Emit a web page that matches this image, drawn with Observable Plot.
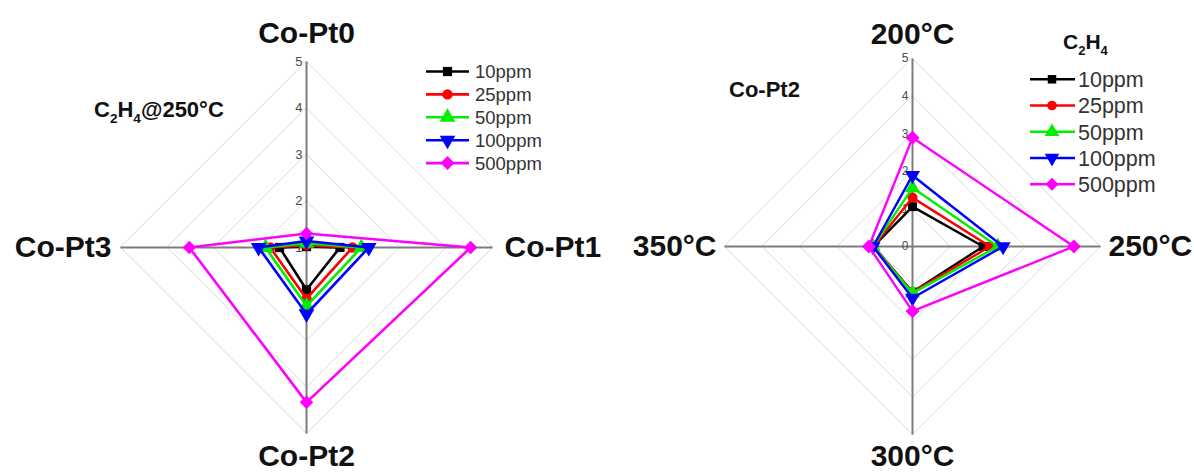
<!DOCTYPE html>
<html>
<head>
<meta charset="utf-8">
<script src="https://cdn.jsdelivr.net/npm/d3@7"></script>
<script src="https://cdn.jsdelivr.net/npm/@observablehq/plot@0.6"></script>
<style>
  body { margin: 0; background: #fff; }
  #wrap { position: relative; width: 1194px; height: 472px; overflow: hidden; font-family: "Liberation Sans", Arial, sans-serif; }
  .panel { position: absolute; top: 0; }
  #overlay { position: absolute; left: 0; top: 0; pointer-events: none; }
</style>
</head>
<body>
<div id="wrap">
  <div id="left" class="panel" style="left:0"></div>
  <div id="right" class="panel" style="left:597px"></div>
  <svg id="overlay" width="1194" height="472"></svg>
</div>
<script>
// C2H4 concentrations shared by both radar panels
const series = ["10ppm", "25ppm", "50ppm", "100ppm", "500ppm"];
const seriesColors = ["#000000", "#ff0000", "#00ee00", "#0000ff", "#ff00ff"];
const seriesSymbols = ["square", "circle", "triangle", "triangle", "square"];
const seriesRotate = [0, 0, 0, 180, 45];

// Panel 1: response of each sample to C2H4 at 250 °C
const sampleAxes = ["Co-Pt0", "Co-Pt1", "Co-Pt2", "Co-Pt3"];
const sample10 = [1.02, 1.72, 1.91, 1.58];
const sample25 = [1.05, 1.99, 2.10, 1.78];
const sample50 = [1.09, 2.18, 2.26, 1.88];
const sample100 = [1.14, 2.34, 2.43, 2.03];
const sample500 = [1.30, 4.53, 4.33, 3.52];
const sampleTicks = [1, 2, 3, 4, 5];

// Panel 2: response of Co-Pt2 at each operating temperature
const tempAxes = ["200°C", "250°C", "300°C", "350°C"];
const temp10 = [1.06, 1.88, 1.21, 1.04];
const temp25 = [1.30, 2.06, 1.22, 1.04];
const temp50 = [1.56, 2.27, 1.24, 1.05];
const temp100 = [1.89, 2.41, 1.37, 1.05];
const temp500 = [2.89, 4.29, 1.72, 1.16];
const tempTicks = [0, 1, 2, 3, 4, 5];

function radar({axes, values, ticks, rMin, rMax, gridStep, cx, cy, unit, width, height,
                lineWidth, dotR, diamondR, labelSize, tickSize, labelGap}) {
  const n = axes.length;
  // clockwise from the top, value rMin sits at the centre
  const polar = (v, i) => {
    const a = 2 * Math.PI * i / n;
    const r = v - rMin;
    return {x: r * Math.sin(a), y: r * Math.cos(a)};
  };
  const levels = d3.range(rMin + gridStep, rMax + 1e-9, gridStep);
  const grid = levels.flatMap(L => axes.map((a, i) => ({level: L, ...polar(L, i)})));
  const spokes = axes.map((a, i) => ({axis: a, i, ...polar(rMax, i)}));

  const seriesMarks = values.flatMap((vals, s) => {
    const pts = vals.map((v, i) => ({series: series[s], axis: axes[i], value: v, ...polar(v, i)}));
    return [
      Plot.line(pts, {x: "x", y: "y", curve: "linear-closed", stroke: seriesColors[s], strokeWidth: lineWidth}),
      Plot.dot(pts, {x: "x", y: "y", symbol: seriesSymbols[s], rotate: seriesRotate[s],
                     r: s === 4 ? diamondR : (s >= 2 ? dotR + 0.6 : dotR),
                     fill: seriesColors[s], stroke: "none"})
    ];
  });

  const labelStyle = {text: "axis", fontSize: labelSize, fontWeight: "bold", fill: "#111"};
  return Plot.plot({
    width, height,
    margin: 0,
    x: {domain: [-cx / unit, (width - cx) / unit], axis: null},
    y: {domain: [-(height - cy) / unit, cy / unit], axis: null},
    style: {fontFamily: "'Liberation Sans', Arial, sans-serif", background: "transparent", overflow: "visible"},
    marks: [
      Plot.line(grid, {x: "x", y: "y", z: "level", curve: "linear-closed", stroke: "#dadada", strokeWidth: 1}),
      Plot.link(spokes, {x1: 0, y1: 0, x2: "x", y2: "y", stroke: "#7c7c7c", strokeWidth: 2}),
      Plot.text(ticks, {x: 0, y: t => t - rMin, text: d => String(d), textAnchor: "end", dx: -4,
                        fontSize: tickSize, fill: "#4a4a4a"}),
      ...seriesMarks,
      Plot.text([spokes[0]], {x: "x", y: "y", ...labelStyle, dy: -labelGap[0]}),
      Plot.text([spokes[1]], {x: "x", y: "y", ...labelStyle, textAnchor: "start", dx: labelGap[1]}),
      Plot.text([spokes[2]], {x: "x", y: "y", ...labelStyle, dy: labelGap[2]}),
      Plot.text([spokes[3]], {x: "x", y: "y", ...labelStyle, textAnchor: "end", dx: -labelGap[3]})
    ]
  });
}

document.getElementById("left").append(radar({
  axes: sampleAxes,
  values: [sample10, sample25, sample50, sample100, sample500],
  ticks: sampleTicks, rMin: 1, rMax: 5, gridStep: 1,
  cx: 306, cy: 247, unit: 46.5, width: 597, height: 472,
  lineWidth: 2.6, dotR: 5.2, diamondR: 5.4, labelSize: 30, tickSize: 13,
  labelGap: [28, 12, 23, 9]
}));

document.getElementById("right").append(radar({
  axes: tempAxes,
  values: [temp10, temp25, temp50, temp100, temp500],
  ticks: tempTicks, rMin: 0, rMax: 5, gridStep: 1,
  cx: 315, cy: 246, unit: 37.6, width: 597, height: 472,
  lineWidth: 2.4, dotR: 5.0, diamondR: 5.6, labelSize: 30, tickSize: 12,
  labelGap: [24, 8, 22, 8]
}));

// Notes and legends drawn over the two panels
const svg = d3.select("#overlay").style("font-family", "'Liberation Sans', Arial, sans-serif");

// text with chemical subscripts: parts are [string, isSubscript]
function chem(sel, x, y, size, parts) {
  const t = sel.append("text").attr("x", x).attr("y", y).attr("font-size", size)
    .attr("font-weight", "bold").attr("fill", "#111");
  let prevSub = false;
  parts.forEach(([str, sub]) => {
    const shift = sub ? size * 0.28 : (prevSub ? -size * 0.28 : 0);
    t.append("tspan").text(str)
      .attr("font-size", sub ? size * 0.62 : size)
      .attr("dy", shift);
    prevSub = !!sub;
  });
  return t;
}

chem(svg, 94, 117, 22, [["C"], ["2", true], ["H"], ["4", true], ["@250°C"]]);
svg.append("text").attr("x", 729).attr("y", 97).attr("font-size", 22).attr("font-weight", "bold")
  .attr("fill", "#111").text("Co-Pt2");
chem(svg, 1063, 49, 21, [["C"], ["2", true], ["H"], ["4", true]]);

function legend({x0, x1, xm, xt, y0, step, fontSize, lineWidth, size}) {
  const g = svg.append("g");
  series.forEach((name, s) => {
    const y = y0 + s * step;
    g.append("line").attr("x1", x0).attr("x2", x1).attr("y1", y).attr("y2", y)
      .attr("stroke", seriesColors[s]).attr("stroke-width", lineWidth);
    const type = {square: d3.symbolSquare, circle: d3.symbolCircle, triangle: d3.symbolTriangle}[seriesSymbols[s]];
    const r = s === 4 ? size + 0.4 : (s >= 2 ? size + 0.6 : size);
    g.append("path").attr("d", d3.symbol(type, Math.PI * r * r)())
      .attr("transform", `translate(${xm},${y}) rotate(${seriesRotate[s]})`)
      .attr("fill", seriesColors[s]);
    g.append("text").attr("x", xt).attr("y", y).attr("dy", "0.36em").attr("font-size", fontSize)
      .attr("fill", "#333").text(name);
  });
}

legend({x0: 426, x1: 469, xm: 447.5, xt: 475, y0: 71.5, step: 22.9, fontSize: 18.5, lineWidth: 2.6, size: 5.2});
legend({x0: 1030, x1: 1075, xm: 1052, xt: 1078, y0: 79.3, step: 26.25, fontSize: 21.5, lineWidth: 2.4, size: 4.8});
</script>
</body>
</html>
